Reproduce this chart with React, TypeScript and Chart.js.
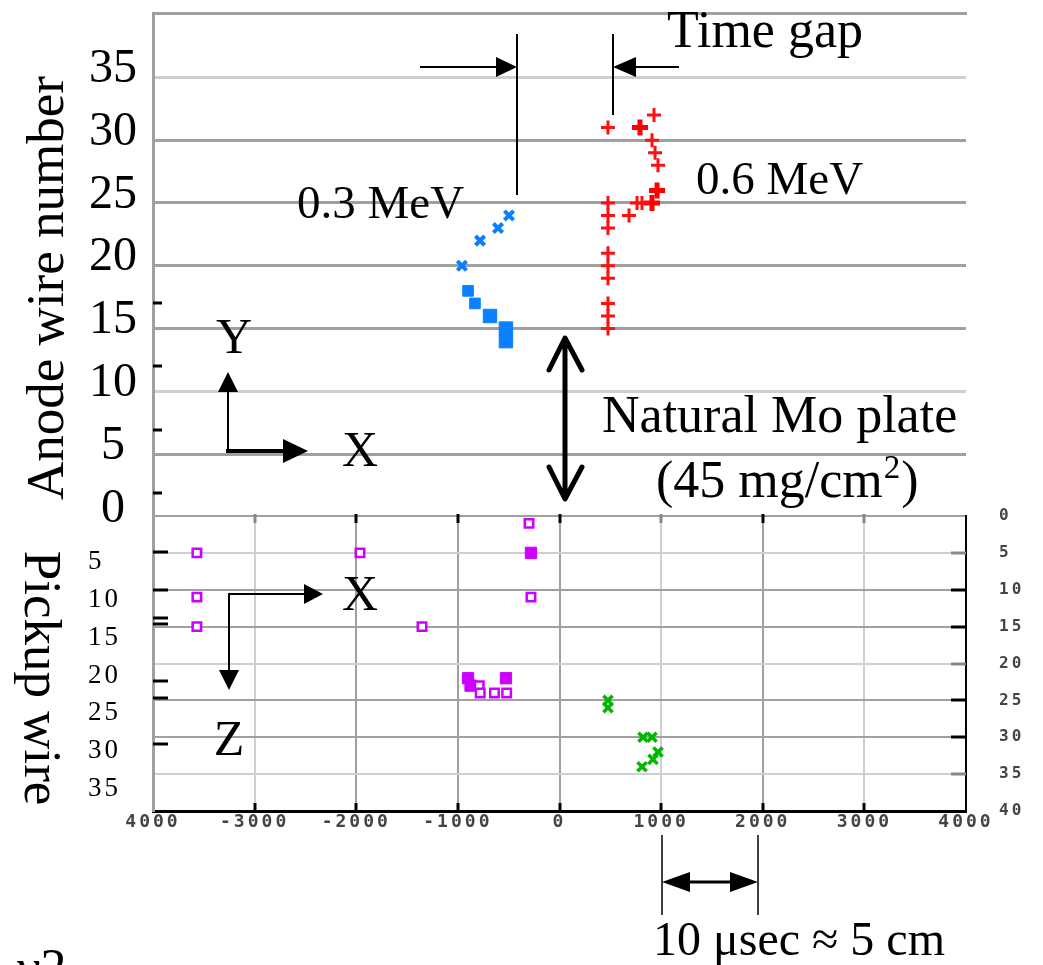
import React, { useEffect, useRef } from 'react';
import { Chart, registerables } from 'chart.js';

Chart.register(...registerables);

// ---------- ticks ----------
const timeTickValues = [-4000, -3000, -2000, -1000, 0, 1000, 2000, 3000, 4000];
const timeTickLabels = ['4000', '-3000', '-2000', '-1000', '0', '1000', '2000', '3000', '4000'];
const timeLightGrid = [-3000, 1000, 3000];

const anodeTickValues = [0, 5, 10, 15, 20, 25, 30, 35];
const anodeTickLabels = ['0', '5', '10', '15', '20', '25', '30', '35'];
const anodeLightGrid = [10, 35];
const anodeExtraMarks = [17, 12, 6.9, 1.9];

const pickupTickValues = [0, 5, 10, 15, 20, 25, 30, 35, 40];
const pickupTickLabels = ['0', '5', '10', '15', '20', '25', '30', '35', '40'];
const pickupLightGrid = [5, 20, 35];
const pickupLeftTickValues = [5, 10, 15, 20, 25, 30, 35];
const pickupLeftTickLabels = ['5', '10', '15', '20', '25', '30', '35'];
const pickupExtraMarks = [4.9, 10, 13.8, 14.7, 22.4, 24.7, 30.9];

// ---------- series (time, wire number) ----------
// 0.3 MeV track, anode wires
const blueSmallTime = [-497, -605, -782, -960];
const blueSmallWire = [24, 23, 22, 20];
const blueMidTime = [-900, -832];
const blueMidWire = [18, 17];
const blueBigTime = [-684, -527, -527];
const blueBigWire = [16, 15, 14];
// 0.6 MeV track, anode wires
const redTime = [477, 930, 910, 940, 969, 477, 763, 812, 477, 684, 477, 477, 477, 477, 477, 477, 477];
const redWire = [31, 32, 30, 29, 28, 25, 25, 25, 24, 24, 23, 21, 20, 19, 17, 16, 15];
const redBoldTime = [792, 960, 910];
const redBoldWire = [31, 26, 25];
// pickup wires
const magentaOpenTime = [-3568, -3568, -3568, -1963, -1353, -300, -281, -790, -780, -640, -520];
const magentaOpenWire = [5, 11, 15, 5, 15, 1, 11, 23, 24, 24, 24];
const magentaFullTime = [-900, -875, -527, -281];
const magentaFullWire = [22, 23, 22, 5];
const greenTime = [477, 477, 822, 910, 969, 920, 812];
const greenWire = [25, 26, 30, 30, 32, 33, 34];

const pts = (xs: number[], ys: number[]) => xs.map((x, i) => ({ x, y: ys[i] }));

const DARK = '#a0a0a0';
const LIGHT = '#cfcfcf';
const SERIF = '"Liberation Serif", "Times New Roman", serif';
const MONO = '"DejaVu Sans Mono", monospace';

const noPad = (s: any) => {
  s.paddingTop = 0;
  s.paddingBottom = 0;
  s.paddingLeft = 0;
  s.paddingRight = 0;
};

function drawAnnotations(ctx: CanvasRenderingContext2D) {
  ctx.save();
  (ctx as any).letterSpacing = '0px';
  ctx.fillStyle = '#000';
  ctx.strokeStyle = '#000';
  const text = (t: string, x: number, y: number, size: number, align: CanvasTextAlign = 'left') => {
    ctx.font = `${size}px ${SERIF}`;
    ctx.textAlign = align;
    ctx.textBaseline = 'alphabetic';
    ctx.fillText(t, x, y);
  };
  const seg = (x1: number, y1: number, x2: number, y2: number, w: number) => {
    ctx.lineWidth = w;
    ctx.lineCap = 'butt';
    ctx.beginPath();
    ctx.moveTo(x1, y1);
    ctx.lineTo(x2, y2);
    ctx.stroke();
  };
  const head = (tx: number, ty: number, bx: number, by: number, half: number) => {
    const dx = tx - bx, dy = ty - by;
    const L = Math.hypot(dx, dy);
    const nx = -dy / L, ny = dx / L;
    ctx.beginPath();
    ctx.moveTo(tx, ty);
    ctx.lineTo(bx + nx * half, by + ny * half);
    ctx.lineTo(bx - nx * half, by - ny * half);
    ctx.closePath();
    ctx.fill();
  };

  // Time gap
  text('Time gap', 667, 47, 52);
  seg(420, 67, 500, 67, 2);
  head(517, 67, 496, 67, 10);
  seg(517, 34, 517, 195, 2);
  seg(613, 34, 613, 115, 2);
  seg(679, 67, 630, 67, 2);
  head(613, 67, 636, 67, 10);

  text('0.3 MeV', 297, 218, 47);
  text('0.6 MeV', 696, 194, 47);

  // Y / X axes symbol (upper)
  text('Y', 234, 353, 50, 'center');
  seg(228, 452, 228, 390, 2);
  head(228, 372, 228, 392, 10);
  seg(226, 451, 285, 451, 4);
  head(308, 451, 283, 451, 12);
  text('X', 360, 466, 50, 'center');

  // double arrow (Mo plate)
  ctx.lineWidth = 5;
  ctx.lineCap = 'round';
  ctx.lineJoin = 'round';
  ctx.beginPath();
  ctx.moveTo(565, 340); ctx.lineTo(565, 497);
  ctx.moveTo(549, 370); ctx.lineTo(565, 338); ctx.lineTo(582, 370);
  ctx.moveTo(549, 467); ctx.lineTo(565, 499); ctx.lineTo(582, 467);
  ctx.stroke();

  text('Natural Mo plate', 602, 432, 52);
  ctx.font = `52px ${SERIF}`;
  const w1 = ctx.measureText('(45 mg/cm').width;
  text('(45 mg/cm', 656, 497, 52);
  text('2', 656 + w1 + 1, 478, 33);
  ctx.font = `33px ${SERIF}`;
  const w2 = ctx.measureText('2').width;
  text(')', 656 + w1 + w2 + 2, 497, 52);

  // X / Z axes symbol (lower)
  seg(229, 594, 306, 594, 2);
  head(323, 594, 304, 594, 10);
  seg(229, 593, 229, 672, 2);
  head(229, 690, 229, 670, 10);
  text('X', 360, 610, 50, 'center');
  text('Z', 229, 755, 50, 'center');

  // scale bar
  seg(662, 835, 662, 915, 1.5);
  seg(758, 835, 758, 915, 1.5);
  seg(680, 882, 740, 882, 3);
  head(662, 882, 690, 882, 10);
  head(758, 882, 730, 882, 10);
  text('10 \u03bcsec \u2248 5 cm', 653, 955, 48);

  // cut fragment bottom-left
  text('\u03bd2', 17, 985, 52);

  // rotated axis titles
  ctx.save();
  ctx.translate(63, 288);
  ctx.rotate(-Math.PI / 2);
  text('Anode wire number', 0, 0, 53, 'center');
  ctx.restore();
  ctx.save();
  ctx.translate(25, 678);
  ctx.rotate(Math.PI / 2);
  text('Pickup wire', 0, 0, 53, 'center');
  ctx.restore();

  ctx.restore();
}

const upperMarks = {
  id: 'upperMarks',
  afterDraw(chart: any) {
    const { ctx, chartArea, scales } = chart;
    ctx.save();
    ctx.strokeStyle = '#000';
    ctx.lineWidth = 3;
    anodeExtraMarks.forEach((v) => {
      const y = Math.round(scales.y.getPixelForValue(v));
      ctx.beginPath();
      ctx.moveTo(chartArea.left, y);
      ctx.lineTo(chartArea.left + 9, y);
      ctx.stroke();
    });
    ctx.restore();
  },
};

const lowerMarks = {
  id: 'lowerMarks',
  beforeDraw(chart: any) {
    (chart.ctx as any).letterSpacing = '3px';
  },
  afterDatasetsDraw(chart: any) {
    const { ctx, chartArea, scales } = chart;
    ctx.save();
    (ctx as any).letterSpacing = '0px';
    ctx.lineWidth = 3;
    ctx.strokeStyle = '#000';
    pickupExtraMarks.forEach((v) => {
      const y = Math.round(scales.yR.getPixelForValue(v));
      ctx.beginPath();
      ctx.moveTo(chartArea.left, y);
      ctx.lineTo(chartArea.left + 15, y);
      ctx.stroke();
    });
    pickupTickValues.slice(1, -1).forEach((v) => {
      const y = Math.round(scales.yR.getPixelForValue(v));
      ctx.strokeStyle = pickupLightGrid.includes(v) ? '#888' : '#000';
      ctx.beginPath();
      ctx.moveTo(chartArea.right - 15, y);
      ctx.lineTo(chartArea.right, y);
      ctx.stroke();
    });
    timeTickValues.slice(1, -1).forEach((v) => {
      const x = Math.round(scales.x.getPixelForValue(v));
      ctx.strokeStyle = timeLightGrid.includes(v) ? '#888' : '#000';
      ctx.beginPath();
      ctx.moveTo(x, chartArea.top - 2);
      ctx.lineTo(x, chartArea.top + 7);
      ctx.stroke();
      ctx.strokeStyle = '#000';
      ctx.beginPath();
      ctx.moveTo(x, chartArea.bottom - 8);
      ctx.lineTo(x, chartArea.bottom);
      ctx.stroke();
    });
    ctx.restore();
  },
  afterDraw(chart: any) {
    (chart.ctx as any).letterSpacing = '0px';
    drawAnnotations(chart.ctx);
  },
};

export default function App() {
  const upperRef = useRef<HTMLCanvasElement>(null);
  const lowerRef = useRef<HTMLCanvasElement>(null);

  useEffect(() => {
    const upper = new Chart(upperRef.current as HTMLCanvasElement, {
      type: 'scatter',
      data: {
        datasets: [
          {
            data: pts(blueSmallTime, blueSmallWire),
            pointStyle: 'crossRot', radius: 6.5, borderWidth: 4,
            borderColor: '#0a80ff', backgroundColor: '#0a80ff',
          },
          {
            data: pts(blueMidTime, blueMidWire),
            pointStyle: 'rect', radius: 7.5, borderWidth: 1,
            borderColor: '#0a80ff', backgroundColor: '#0a80ff',
          },
          {
            data: pts(blueBigTime, blueBigWire),
            pointStyle: 'rect', radius: 9.5, borderWidth: 1,
            borderColor: '#0a80ff', backgroundColor: '#0a80ff',
          },
          {
            data: pts(redTime, redWire),
            pointStyle: 'cross', radius: 7, borderWidth: 3,
            borderColor: '#ff1010', backgroundColor: '#ff1010',
          },
          {
            data: pts(redBoldTime, redBoldWire),
            pointStyle: 'cross', radius: 8, borderWidth: 5,
            borderColor: '#ff0000', backgroundColor: '#ff0000',
          },
        ],
      },
      options: {
        responsive: false,
        animation: false,
        events: [],
        layout: { padding: { left: 0, top: 8, right: 77, bottom: 448 } },
        plugins: { legend: { display: false }, tooltip: { enabled: false } },
        scales: {
          x: { type: 'linear', display: false, min: -4000, max: 4000 },
          xTop: {
            type: 'linear', position: 'top', min: -4000, max: 4000,
            grid: { display: false }, ticks: { display: false },
            border: { display: true, color: DARK, width: 3 },
            afterFit: (s: any) => { s.height = 0; noPad(s); },
          },
          y: {
            type: 'linear', position: 'left', min: 0, max: 40.12,
            afterBuildTicks: (s: any) => { s.ticks = anodeTickValues.map((v) => ({ value: v })); },
            afterFit: (s: any) => { s.width = 153; noPad(s); },
            ticks: {
              autoSkip: false,
              callback: (_v: any, i: number) => anodeTickLabels[i],
              font: { family: SERIF, size: 48 },
              color: '#000',
              crossAlign: 'center',
              padding: 16,
              labelOffset: -8,
            },
            grid: {
              drawTicks: false,
              lineWidth: 3,
              color: (c: any) => {
                const v = c.tick ? c.tick.value : null;
                if (v === 0) return 'rgba(0,0,0,0)';
                return anodeLightGrid.includes(v) ? LIGHT : DARK;
              },
            },
            border: { color: DARK, width: 3 },
          },
        },
      } as any,
      plugins: [upperMarks],
    });

    const lower = new Chart(lowerRef.current as HTMLCanvasElement, {
      type: 'scatter',
      data: {
        datasets: [
          {
            data: pts(magentaOpenTime, magentaOpenWire),
            xAxisID: 'x', yAxisID: 'yR',
            pointStyle: 'rect', radius: 6, borderWidth: 2.5,
            borderColor: '#cc00ff', backgroundColor: '#ffffff',
          },
          {
            data: pts(magentaFullTime, magentaFullWire),
            xAxisID: 'x', yAxisID: 'yR',
            pointStyle: 'rect', radius: 8, borderWidth: 1,
            borderColor: '#cc00ff', backgroundColor: '#cc00ff',
          },
          {
            data: pts(greenTime, greenWire),
            xAxisID: 'x', yAxisID: 'yR',
            pointStyle: 'crossRot', radius: 6.5, borderWidth: 3.5,
            borderColor: '#00b800', backgroundColor: '#00b800',
          },
        ],
      },
      options: {
        responsive: false,
        animation: false,
        events: [],
        layout: { padding: { left: 88, top: 516, right: 0, bottom: 124 } },
        plugins: { legend: { display: false }, tooltip: { enabled: false } },
        scales: {
          x: {
            type: 'linear', position: 'bottom', min: -4000, max: 4000,
            afterBuildTicks: (s: any) => { s.ticks = timeTickValues.map((v) => ({ value: v })); },
            afterFit: (s: any) => { s.height = 30; noPad(s); },
            ticks: {
              autoSkip: false, maxRotation: 0, minRotation: 0,
              callback: (_v: any, i: number) => timeTickLabels[i],
              font: { family: MONO, size: 18, weight: 'bold' },
              color: '#444',
              padding: 1,
            },
            grid: {
              drawTicks: false,
              lineWidth: 2,
              color: (c: any) => {
                const v = c.tick ? c.tick.value : null;
                if (v === -4000 || v === 4000) return 'rgba(0,0,0,0)';
                return timeLightGrid.includes(v) ? LIGHT : DARK;
              },
            },
            border: { color: '#000', width: 3 },
          },
          yR: {
            type: 'linear', position: 'right', reverse: true, min: 0, max: 40,
            afterBuildTicks: (s: any) => { s.ticks = pickupTickValues.map((v) => ({ value: v })); },
            afterFit: (s: any) => { s.width = 77; noPad(s); },
            ticks: {
              autoSkip: false,
              callback: (_v: any, i: number) => pickupTickLabels[i],
              font: { family: MONO, size: 16, weight: 'bold' },
              color: '#444',
              padding: 33,
            },
            grid: {
              drawTicks: false,
              lineWidth: 2,
              color: (c: any) => {
                const v = c.tick ? c.tick.value : null;
                if (v === 40) return 'rgba(0,0,0,0)';
                if (v === 0) return DARK;
                return pickupLightGrid.includes(v) ? LIGHT : DARK;
              },
            },
            border: { color: '#000', width: 2 },
          },
          yl: {
            type: 'linear', position: 'left', reverse: true, min: -1.08, max: 37.9,
            afterBuildTicks: (s: any) => { s.ticks = pickupLeftTickValues.map((v) => ({ value: v })); },
            afterFit: (s: any) => { s.width = 65; noPad(s); },
            ticks: {
              autoSkip: false,
              callback: (_v: any, i: number) => pickupLeftTickLabels[i],
              font: { family: SERIF, size: 27 },
              color: '#000',
              crossAlign: 'far',
            },
            grid: { display: false },
            border: { display: true, color: DARK, width: 3 },
          },
        },
      } as any,
      plugins: [lowerMarks],
    });

    return () => {
      upper.destroy();
      lower.destroy();
    };
  }, []);

  return (
    <div style={{ position: 'fixed', left: 0, top: 0, width: 1043, height: 965, background: '#fff', overflow: 'hidden' }}>
      <canvas ref={upperRef} width={1043} height={965} style={{ position: 'absolute', left: 0, top: 0, width: 1043, height: 965 }} />
      <canvas ref={lowerRef} width={1043} height={965} style={{ position: 'absolute', left: 0, top: 0, width: 1043, height: 965 }} />
    </div>
  );
}
